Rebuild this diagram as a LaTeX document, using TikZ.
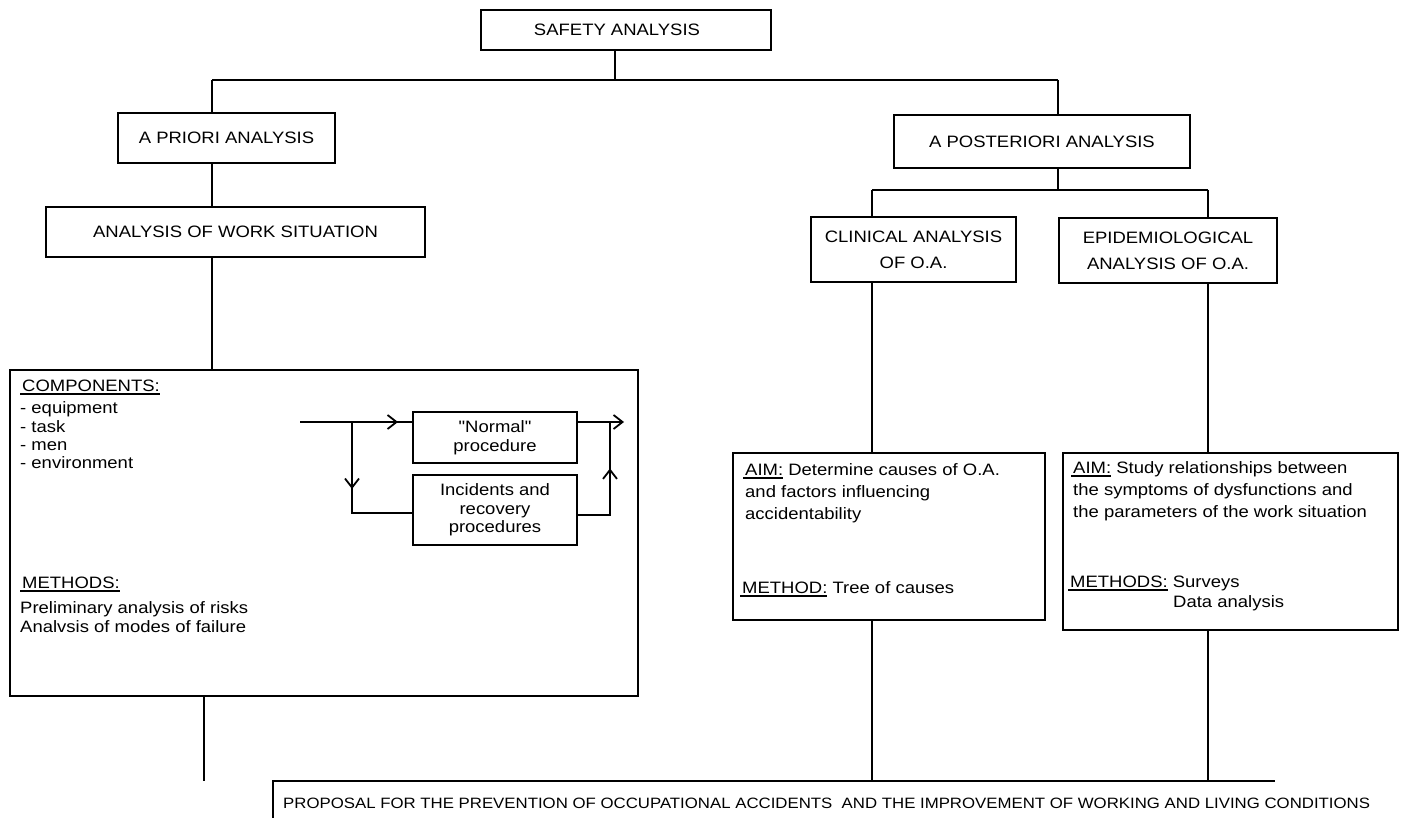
\documentclass[tikz,border=0pt]{standalone}
\usepackage{fontspec}
\setmainfont{Liberation Sans}[FakeStretch=1.12]
\usetikzlibrary{arrows.meta,decorations.markings,calc}
\newcommand\txt{\fontsize{16.5}{18.5}\selectfont}
\newcommand\myul[1]{\sbox0{#1}\rlap{\kern-2pt\rule[-3.5pt]{\dimexpr\wd0+2pt\relax}{1.8pt}}\usebox0}
\begin{document}
\begin{tikzpicture}[x=1pt,y=-1pt,
  every node/.style={inner sep=0pt, font=\txt},
  box/.style={draw, line width=1.1pt, align=center},
  ln/.style={line width=1.1pt},
  lbl/.style={anchor=base west},
  chev/.style={-{Straight Barb[length=9pt,width=14pt,line width=1.8pt]}},
  barb/.style={postaction={decorate,decoration={markings,mark=at position #1 with {\arrow{Straight Barb[length=9pt,width=14pt,line width=1.8pt]}}}}}
]
\fill[white] (0,0) rectangle (1402,818);
\useasboundingbox (0,0) rectangle (1402,818);

% top level
\node[box, minimum width=290, minimum height=40] (safety) at (626,30) {SAFETY ANALYSIS\hspace*{18pt}};
\coordinate (jL) at (212,80);
\coordinate (jR) at (1058,80);
\draw[ln] (jL) -- (jR);
\draw[ln] ([xshift=-11pt]safety.south) -- ([xshift=-11pt]safety.south |- jL);

% left branch
\node[box, minimum width=217, minimum height=50] (apriori) at (226.5,138) {A PRIORI ANALYSIS};
\node[box, minimum width=379, minimum height=50] (worksit) at (235.5,232) {ANALYSIS OF WORK SITUATION};
\node[draw, line width=1.1pt, minimum width=628, minimum height=326] (big) at (324,533) {};
\draw[ln] (jL) -- (jL |- apriori.north);
\draw[ln] (apriori.south -| jL) -- (jL |- worksit.north);
\draw[ln] (worksit.south -| jL) -- (jL |- big.north);

\node[lbl] (comp) at (22,391) {\myul{COMPONENTS:}};
\node[lbl] (c1) at (20,413) {- equipment};
\node[lbl] (c2) at (20,432) {- task};
\node[lbl] (c3) at (20,450) {- men};
\node[lbl] (c4) at (20,468) {- environment};
\node[lbl] (meth) at (22,588) {\myul{METHODS:}};
\node[lbl] (m1) at (20,613) {Preliminary analysis of risks};
\node[lbl] (m2) at (20,632) {Analvsis of modes of failure};

% procedure flow
\node[box, minimum width=164, minimum height=51] (normal) at (495,437.5) {{\addfontfeatures{Ligatures=TeXOff}"Normal"}\\procedure};
\node[box, minimum width=164, minimum height=70] (incid) at (495,510) {Incidents and\\recovery\\procedures};
\coordinate (in) at (300,422);
\coordinate (sp) at (352,422);
\coordinate (out) at (624,422);
\coordinate (rj) at (610,422);
\draw[ln, barb=98pt] (in) -- (sp -| normal.west);
\draw[ln, barb=67pt] (sp) -- (352,513) -- (incid.west |- 0,513);
\draw[ln, chev] (normal.east |- out) -- (out);
\draw[ln, barb=79pt] (incid.east |- 0,515) -- (rj |- 0,515) -- (rj);

% right branch
\node[box, minimum width=296, minimum height=53] (apost) at (1042,141.5) {A POSTERIORI ANALYSIS};
\draw[ln] (jR) -- (jR |- apost.north);
\coordinate (bL) at (872,190);
\coordinate (bR) at (1208,190);
\coordinate (bM) at (1058,190);
\draw[ln] (apost.south -| bM) -- (bM);
\draw[ln] (bL) -- (bR);
\node[box, minimum width=205, minimum height=65, font=\fontsize{16.5}{26}\selectfont] (clin) at (913.5,249.5) {CLINICAL ANALYSIS\\OF O.A.};
\node[box, minimum width=218, minimum height=65, font=\fontsize{16.5}{26}\selectfont] (epid) at (1168,250.5) {EPIDEMIOLOGICAL\\ANALYSIS OF O.A.};
\draw[ln] (bL) -- (bL |- clin.north);
\draw[ln] (bR) -- (bR |- epid.north);

\node[draw, line width=1.1pt, minimum width=312, minimum height=167] (aim1) at (889,536.5) {};
\node[draw, line width=1.1pt, minimum width=335, minimum height=177] (aim2) at (1230.5,541.5) {};
\draw[ln] (clin.south -| bL) -- (bL |- aim1.north);
\draw[ln] (epid.south -| bR) -- (bR |- aim2.north);

\node[lbl] (a1) at (745,475) {\myul{AIM:} Determine causes of O.A.};
\node[lbl] (a2) at (745,497) {and factors influencing};
\node[lbl] (a3) at (745,519) {accidentability};
\node[lbl] (a4) at (742,593) {\myul{METHOD:} Tree of causes};

\node[lbl] (e1) at (1073,473) {\myul{AIM:} Study relationships between};
\node[lbl] (e2) at (1073,495) {the symptoms of dysfunctions and};
\node[lbl] (e3) at (1073,517) {the parameters of the work situation};
\node[lbl] (e4) at (1070,587) {\myul{METHODS:} Surveys};
\node[lbl] (e5) at (1173,607) {Data analysis};

% bottom
\coordinate (pL) at (273,781);
\coordinate (pR) at (1275,781);
\coordinate (pB) at (273,818);
\draw[ln] (pB) -- (pL) -- (pR);
\draw[ln] (big.south -| 204,0) -- (204,781);
\draw[ln] (aim1.south -| bL) -- (bL |- pL);
\draw[ln] (aim2.south -| bR) -- (bR |- pL);
\node[lbl, font=\fontsize{15}{18}\selectfont] (prop) at (283,808) {PROPOSAL FOR THE PREVENTION OF OCCUPATIONAL ACCIDENTS \ AND THE IMPROVEMENT OF WORKING AND LIVING CONDITIONS};
\end{tikzpicture}
\end{document}
